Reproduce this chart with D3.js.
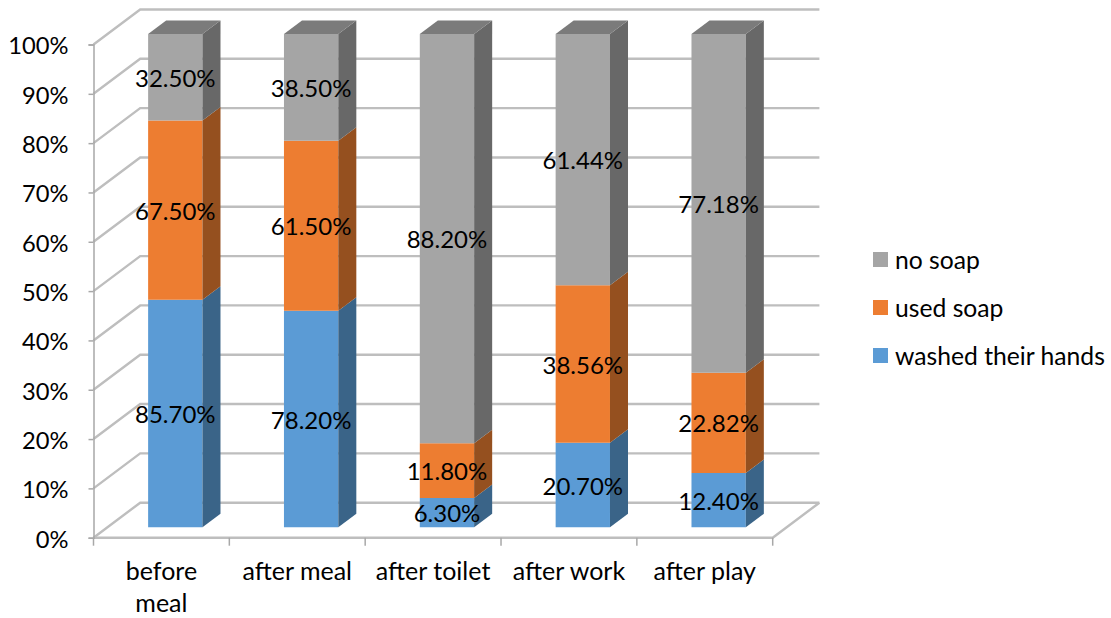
<!DOCTYPE html>
<html>
<head>
<meta charset="utf-8">
<script src="https://cdn.jsdelivr.net/npm/d3@7/dist/d3.min.js"></script>
<style>
  html, body { margin: 0; padding: 0; background: #fff; }
  svg { display: block; }
  text { font-family: Lato, "Open Sans", sans-serif; fill: #000; }
</style>
</head>
<body>
<svg id="chart" width="1111" height="618"></svg>
<script>
// Hand-washing behaviour by occasion (percent labels as reported)
const categories = ["before meal", "after meal", "after toilet", "after work", "after play"];
const washedTheirHands = [85.7, 78.2, 6.3, 20.7, 12.4];
const usedSoap = [67.5, 61.5, 11.8, 38.56, 22.82];
const noSoap = [32.5, 38.5, 88.2, 61.44, 77.18];
const seriesNames = ["washed their hands", "used soap", "no soap"];
const seriesFront = ["#5B9BD5", "#ED7D31", "#A5A5A5"];
const seriesSide = ["#3A6488", "#95501F", "#686868"];
const seriesTop = ["#4A7CAA", "#BD6427", "#7B7B7B"];
const yTicks = [0, .1, .2, .3, .4, .5, .6, .7, .8, .9, 1];

const svg = d3.select("#chart");

// Oblique 3D projection: depth z in [0, 1] shifts a point up and to the right
const x = d3.scaleBand().domain(categories).range([93.5, 772.7]);
const y = d3.scaleLinear().domain([0, 1]).range([537.7, 44.5]);
const depthX = d3.scaleLinear().domain([0, 1]).range([0, 46.7]);
const depthY = d3.scaleLinear().domain([0, 1]).range([0, -35]);
const project = (px, value, z) => [px + depthX(z), y(value) + depthY(z)];
const poly = pts => pts.map(p => p.join(",")).join(" ");

const GRID = "#BEBEBE", AXIS = "#A8A8A8";
const [xMin, xMax] = x.range();

// Wall gridlines, with the floor outline drawn by the same path at 0%
const grid = svg.append("g").attr("fill", "none").attr("stroke", GRID).attr("stroke-width", 2.4);
yTicks.forEach(t => {
  grid.append("polyline").attr("points", poly([
    project(xMin, t, 0), project(xMin, t, 1), project(xMax, t, 1)
  ]));
});
grid.append("polyline").attr("points", poly([
  project(xMin, 0, 0), project(xMax, 0, 0), project(xMax, 0, 1)
]));

// Value axis along the front-left edge
const yAxis = d3.axisLeft(y).tickValues(yTicks).tickSize(5).tickPadding(20)
  .tickFormat(d3.format(".0%"));
const yG = svg.append("g").attr("transform", `translate(${xMin},0)`).call(yAxis);
yG.select(".domain").attr("stroke", AXIS).attr("stroke-width", 1.5);
yG.selectAll(".tick line").attr("stroke", AXIS).attr("stroke-width", 1.5);
yG.selectAll(".tick text").attr("font-size", 23.7).attr("dy", "0.4em")
  .style("font-family", "Lato").attr("fill", "#000");

// Category axis with wrapped labels
const xAxis = d3.axisBottom(x).tickSize(0).tickFormat("");
const xG = svg.append("g").attr("transform", `translate(0,${y(0)})`).call(xAxis);
xG.select(".domain").attr("stroke", "none");
const edges = categories.map(c => x(c)).concat([xMax]);
xG.selectAll("line.edge").data(edges).join("line").attr("class", "edge")
  .attr("x1", d => d).attr("x2", d => d).attr("y1", 0).attr("y2", 8)
  .attr("stroke", AXIS).attr("stroke-width", 1.5);

const catLines = categories.map(c => c === "before meal" ? ["before", "meal"] : [c]);
const catLabels = svg.append("g").attr("text-anchor", "middle").attr("font-size", 25);
categories.forEach((c, i) => {
  catLines[i].forEach((line, j) => {
    catLabels.append("text")
      .attr("x", x(c) + x.bandwidth() / 2)
      .attr("y", 580 + j * 32)
      .text(line);
  });
});

// Stacked bars normalised to 100%
const rows = categories.map((c, i) => ({
  category: c,
  [seriesNames[0]]: washedTheirHands[i],
  [seriesNames[1]]: usedSoap[i],
  [seriesNames[2]]: noSoap[i]
}));
const stacked = d3.stack().keys(seriesNames).offset(d3.stackOffsetExpand)(rows);

const barWidth = x.bandwidth() * 0.4;
const zFront = 0.297, zBack = 0.683;

categories.forEach((c, i) => {
  const x0 = x(c) + (x.bandwidth() - barWidth) / 2;
  const x1 = x0 + barWidth;
  const bar = svg.append("g");
  stacked.forEach((layer, s) => {
    const [v0, v1] = layer[i];
    bar.append("polygon").attr("fill", seriesFront[s]).attr("points", poly([
      project(x0, v0, zFront), project(x1, v0, zFront), project(x1, v1, zFront), project(x0, v1, zFront)
    ]));
    bar.append("polygon").attr("fill", seriesSide[s]).attr("points", poly([
      project(x1, v0, zFront), project(x1, v0, zBack), project(x1, v1, zBack), project(x1, v1, zFront)
    ]));
    if (s === stacked.length - 1) {
      bar.append("polygon").attr("fill", seriesTop[s]).attr("points", poly([
        project(x0, v1, zFront), project(x1, v1, zFront), project(x1, v1, zBack), project(x0, v1, zBack)
      ]));
    }
  });
});

// Data labels sit above every bar, showing the reported figures
const labels = svg.append("g").attr("text-anchor", "middle").attr("font-size", 24);
categories.forEach((c, i) => {
  const cx = x(c) + x.bandwidth() / 2 + depthX(zFront);
  stacked.forEach(layer => {
    const [v0, v1] = layer[i];
    const raw = rows[i][layer.key];
    labels.append("text")
      .attr("x", cx)
      .attr("y", y((v0 + v1) / 2) + depthY(zFront) - 0.5)
      .attr("dy", "0.42em")
      .text(raw.toFixed(2) + "%");
  });
});

// Legend, top entry is the top of the stack
const legendOrder = [2, 1, 0];
const legendRow = d3.scalePoint().domain(legendOrder).range([260, 356]);
const legend = svg.append("g");
legendOrder.forEach(s => {
  legend.append("rect").attr("x", 873).attr("y", legendRow(s) - 8)
    .attr("width", 15).attr("height", 15).attr("fill", seriesFront[s]);
  legend.append("text").attr("x", 895).attr("y", legendRow(s)).attr("dy", "0.36em")
    .attr("font-size", 24.7).text(seriesNames[s]);
});
</script>
</body>
</html>
